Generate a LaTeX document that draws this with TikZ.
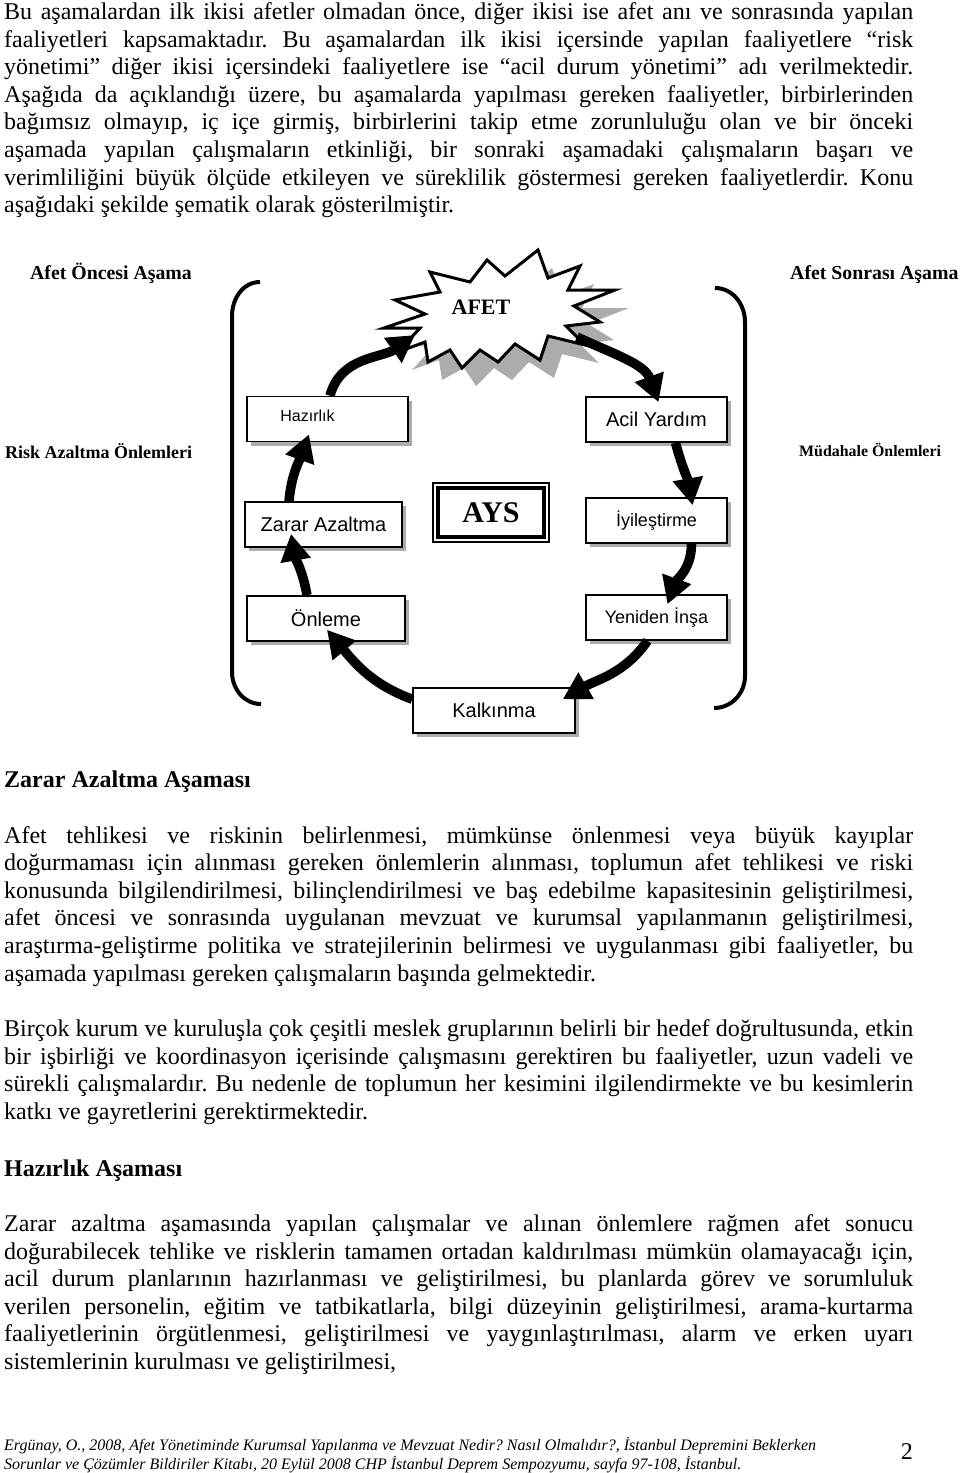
\documentclass[tikz,border=0pt]{standalone}
\usepackage{fontspec}
\setmainfont{Liberation Serif}
\newfontfamily\arialyazi{Liberation Sans}
\usetikzlibrary{positioning,shadows,arrows.meta}
\frenchspacing

\newlength\satirgenis
\setlength\satirgenis{909pt}
\newcommand\satir[1]{\hbox to \satirgenis{#1}}
\newcommand\sonsatir[1]{\hbox{#1}}
\newcommand\paragraf[1]{\vtop{\hsize=\satirgenis\baselineskip=27.6pt\lineskiplimit=-100pt #1}}
\newcommand\govde{\fontsize{24pt}{27.6pt}\selectfont}
\newcommand\baslik{\fontsize{24pt}{28pt}\selectfont\bfseries}

\tikzset{
  metin/.style={anchor=base west, inner sep=0pt, font=\govde},
  etiket/.style={anchor=base west, inner sep=0pt},
  kutu/.style={draw, line width=1.6pt, fill=white, inner sep=0pt,
    minimum height=45pt, font=\arialyazi\fontsize{20pt}{22pt}\selectfont,
    drop shadow={shadow xshift=4pt, shadow yshift=-4pt, fill=gray!65, opacity=1}},
  ok/.style={line width=9.5pt, -{Triangle[length=27pt, width=29pt]}},
  parantez/.style={line width=4pt},
}

\begin{document}
\begin{tikzpicture}[x=1pt, y=1pt]
\useasboundingbox (0,0) rectangle (960,-1473);

% ust paragraf
\node[metin] (p1) at (4,-19.5) {\paragraf{%
\satir{Bu aşamalardan ilk ikisi afetler olmadan önce, diğer ikisi ise afet anı ve sonrasında yapılan}
\satir{faaliyetleri kapsamaktadır. Bu aşamalardan ilk ikisi içersinde yapılan faaliyetlere “risk}
\satir{yönetimi” diğer ikisi içersindeki faaliyetlere ise “acil durum yönetimi” adı verilmektedir.}
\satir{Aşağıda da açıklandığı üzere, bu aşamalarda yapılması gereken faaliyetler, birbirlerinden}
\satir{bağımsız olmayıp, iç içe girmiş, birbirlerini takip etme zorunluluğu olan ve bir önceki}
\satir{aşamada yapılan çalışmaların etkinliği, bir sonraki aşamadaki çalışmaların başarı ve}
\satir{verimliliğini büyük ölçüde etkileyen ve süreklilik göstermesi gereken faaliyetlerdir. Konu}
\sonsatir{aşağıdaki şekilde şematik olarak gösterilmiştir.}}};

% sekil etiketleri
\node[etiket, font=\fontsize{19.8pt}{22pt}\selectfont\bfseries] (oncesi) at (30,-279.5) {Afet Öncesi Aşama};
\node[etiket, font=\fontsize{19.8pt}{22pt}\selectfont\bfseries] (sonrasi) at (790,-279.5) {Afet Sonrası Aşama};
\node[etiket, font=\fontsize{18pt}{20pt}\selectfont\bfseries] (risk) at (5,-458) {Risk Azaltma Önlemleri};
\node[etiket, font=\fontsize{15.9pt}{18pt}\selectfont\bfseries] (mudahale) at (799,-456.5) {Müdahale Önlemleri};

% parantezler
\draw[parantez] (260,-282) to[out=180, in=90] (232,-316) -- (232,-672) to[out=-90, in=180] (261,-704);
\draw[parantez] (715,-288) to[out=0, in=90] (745,-322) -- (745,-676) to[out=-90, in=0] (714,-708);

% afet yildizi
\fill[gray!65, shift={(14,-18)}] (538,-250) -- (548,-278) -- (580,-266) -- (568,-290) -- (615,-290)
  -- (574,-306) -- (600,-322) -- (566,-326) -- (585,-345) -- (548,-336) -- (540,-360) -- (515,-344)
  -- (498,-362) -- (480,-350) -- (462,-368) -- (450,-350) -- (428,-362) -- (425,-342) -- (398,-352)
  -- (420,-328) -- (384,-328) -- (425,-314) -- (395,-300) -- (440,-292) -- (430,-272) -- (470,-282)
  -- (487,-260) -- (505,-276) -- cycle;
\draw[line width=3pt, fill=white, line join=miter] (538,-250) -- (548,-278) -- (580,-266) -- (568,-290) -- (615,-290)
  -- (574,-306) -- (600,-322) -- (566,-326) -- (585,-345) -- (548,-336) -- (540,-360) -- (515,-344)
  -- (498,-362) -- (480,-350) -- (462,-368) -- (450,-350) -- (428,-362) -- (425,-342) -- (398,-352)
  -- (420,-328) -- (384,-328) -- (425,-314) -- (395,-300) -- (440,-292) -- (430,-272) -- (470,-282)
  -- (487,-260) -- (505,-276) -- cycle;
\node[font=\fontsize{22pt}{24pt}\selectfont\bfseries, inner sep=0pt] (afet) at (481,-307.5) {AFET};
\coordinate (afetsol) at (415,-335);
\coordinate (afetsag) at (577,-337);

% kutular
\node[kutu, minimum width=161pt,
  label={[font=\arialyazi\fontsize{16pt}{18pt}\selectfont, xshift=-20pt, yshift=3pt]center:Hazırlık}]
  (hazirlik) at (327.5,-419) {};
\node[kutu, minimum width=141pt] (acil) at (656.5,-419.5) {Acil Yardım};
\node[kutu, minimum width=157pt] (zarar) at (323.5,-524.5) {Zarar Azaltma};
\node[kutu, minimum width=141pt, font=\arialyazi\fontsize{18pt}{20pt}\selectfont] (iyi) at (656.5,-520.5) {İyileştirme};
\node[kutu, minimum width=158pt] (onleme) at (326,-618.5) {Önleme};
\node[kutu, minimum width=141pt, font=\arialyazi\fontsize{18pt}{20pt}\selectfont] (yeniden) at (656.5,-617.5) {Yeniden İnşa};
\node[kutu, minimum width=162pt] (kalkinma) at (494,-710.5) {Kalkınma};

\node[draw, line width=1.3pt, minimum width=116pt, minimum height=59pt, inner sep=0pt,
  font=\fontsize{30pt}{32pt}\selectfont\bfseries] (ays) at (491,-512.5) {\raisebox{-3.5pt}{AYS}};
\draw[line width=4.5pt] ([shift={(5.5,-5.5)}]ays.north west) rectangle ([shift={(-5.5,5.5)}]ays.south east);

% oklar
\draw[ok] ([xshift=2.5pt]hazirlik.north) to[out=75, in=215] (afetsol);
\draw[ok] (afetsag) to[out=-25, in=110] ([xshift=2pt, yshift=-6pt]acil.north);
\draw[ok] ([xshift=19pt]acil.south) to[out=-75, in=100] ([xshift=36pt, yshift=-8pt]iyi.north);
\draw[ok] ([xshift=35pt]iyi.south) to[out=-90, in=70] ([xshift=11pt, yshift=-10pt]yeniden.north);
\draw[ok] ([xshift=-9pt]yeniden.south) to[out=-125, in=30] ([xshift=-13pt, yshift=-12pt]kalkinma.north east);
\draw[ok] ([yshift=-12pt]kalkinma.north west) to[out=160, in=-50] ([xshift=1pt, yshift=12pt]onleme.south);
\draw[ok] ([xshift=-19pt]onleme.north) to[out=100, in=-80] ([xshift=-32.5pt, yshift=14pt]zarar.south);
\draw[ok] ([xshift=-34.5pt]zarar.north) to[out=85, in=-110] ([xshift=-18.5pt, yshift=8pt]hazirlik.south);

% zarar azaltma asamasi
\node[etiket, font=\baslik] (baslik1) at (4,-787) {Zarar Azaltma Aşaması};
\node[metin] (p2) at (4,-843) {\paragraf{%
\satir{Afet tehlikesi ve riskinin belirlenmesi, mümkünse önlenmesi veya büyük kayıplar}
\satir{doğurmaması için alınması gereken önlemlerin alınması, toplumun afet tehlikesi ve riski}
\satir{konusunda bilgilendirilmesi, bilinçlendirilmesi ve baş edebilme kapasitesinin geliştirilmesi,}
\satir{afet öncesi ve sonrasında uygulanan mevzuat ve kurumsal yapılanmanın geliştirilmesi,}
\satir{araştırma-geliştirme politika ve stratejilerinin belirmesi ve uygulanması gibi faaliyetler, bu}
\sonsatir{aşamada yapılması gereken çalışmaların başında gelmektedir.}}};
\node[metin] (p3) at (4,-1036.5) {\paragraf{%
\satir{Birçok kurum ve kuruluşla çok çeşitli meslek gruplarının belirli bir hedef doğrultusunda, etkin}
\satir{bir işbirliği ve koordinasyon içerisinde çalışmasını gerektiren bu faaliyetler, uzun vadeli ve}
\satir{sürekli çalışmalardır. Bu nedenle de toplumun her kesimini ilgilendirmekte ve bu kesimlerin}
\sonsatir{katkı ve gayretlerini gerektirmektedir.}}};

% hazirlik asamasi
\node[etiket, font=\baslik] (baslik2) at (4,-1176) {Hazırlık Aşaması};
\node[metin] (p4) at (4,-1231.5) {\paragraf{%
\satir{Zarar azaltma aşamasında yapılan çalışmalar ve alınan önlemlere rağmen afet sonucu}
\satir{doğurabilecek tehlike ve risklerin tamamen ortadan kaldırılması mümkün olamayacağı için,}
\satir{acil durum planlarının hazırlanması ve geliştirilmesi, bu planlarda görev ve sorumluluk}
\satir{verilen personelin, eğitim ve tatbikatlarla, bilgi düzeyinin geliştirilmesi, arama-kurtarma}
\satir{faaliyetlerinin örgütlenmesi, geliştirilmesi ve yaygınlaştırılması, alarm ve erken uyarı}
\sonsatir{sistemlerinin kurulması ve geliştirilmesi,}}};

% dipnot
\node[etiket, font=\fontsize{16pt}{19pt}\selectfont\itshape, align=left] (dipnot) at (4,-1450)
  {\vtop{\baselineskip=19pt\hbox{Ergünay, O., 2008, Afet Yönetiminde Kurumsal Yapılanma ve Mevzuat Nedir? Nasıl Olmalıdır?, İstanbul Depremini Beklerken}
   \hbox{Sorunlar ve Çözümler Bildiriler Kitabı, 20 Eylül 2008 CHP İstanbul Deprem Sempozyumu, sayfa 97-108, İstanbul.}}};
\node[anchor=base east, inner sep=0pt, font=\fontsize{24pt}{26pt}\selectfont] (sayfa) at (913,-1459) {2};
\end{tikzpicture}
\end{document}
